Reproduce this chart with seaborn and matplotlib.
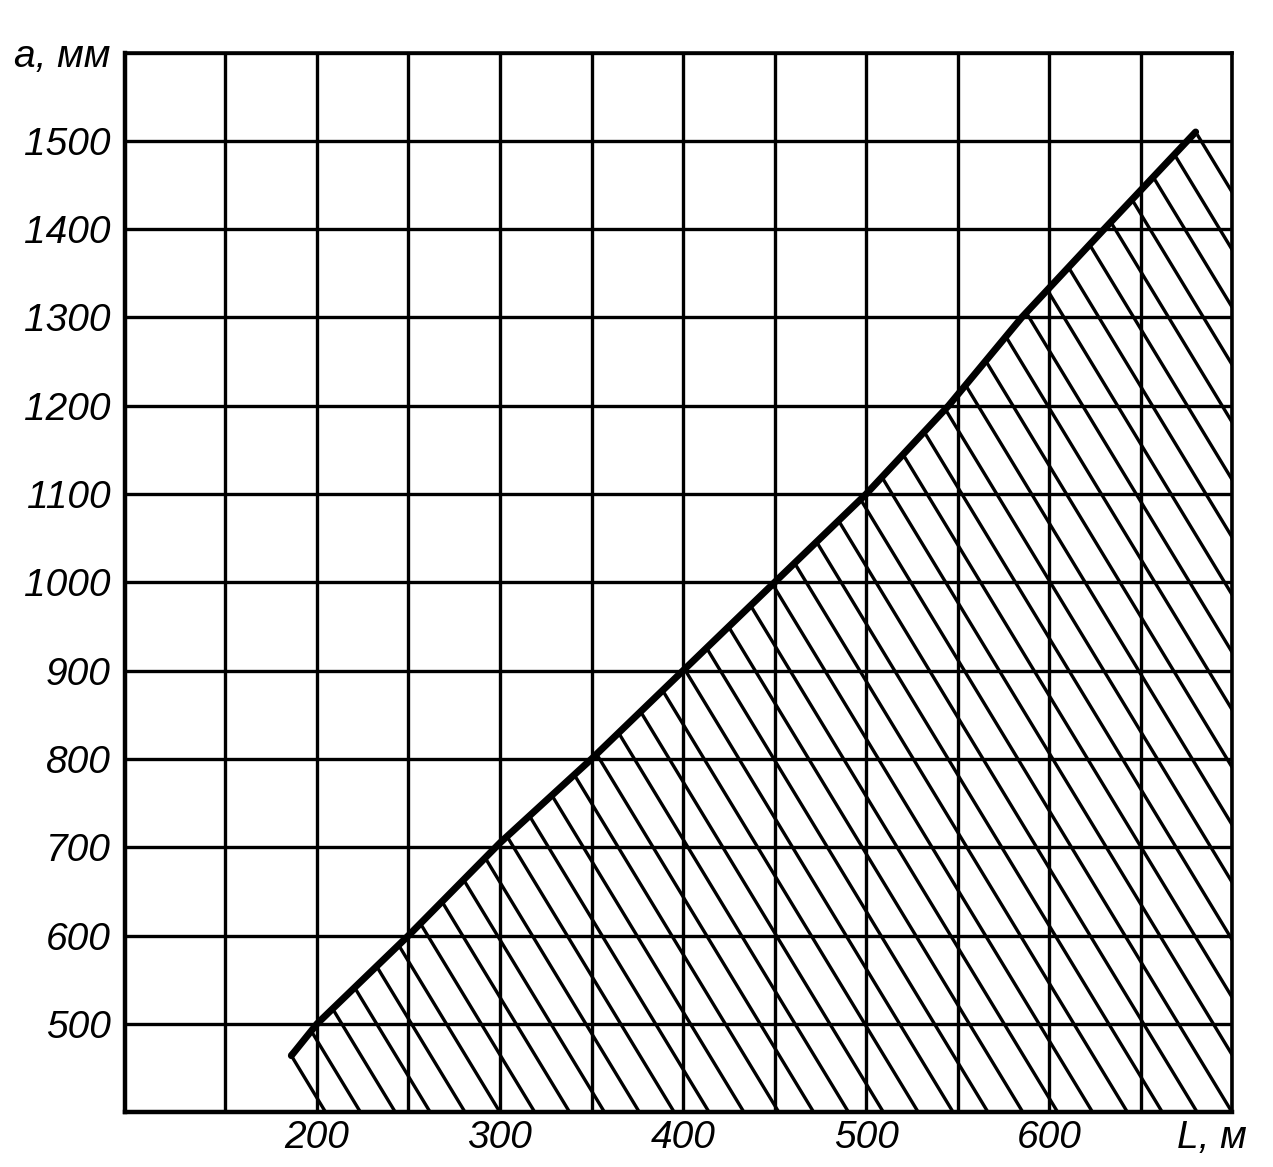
import numpy as np
import pandas as pd
import matplotlib
matplotlib.use("Agg")
import matplotlib.pyplot as plt
import matplotlib.transforms as mtransforms
import seaborn as sns
from matplotlib.patches import Polygon
from matplotlib.collections import LineCollection

# ---- data ----
L_m = [186, 200, 250, 300, 350, 400, 450, 500, 545, 585, 630, 680]
a_mm = [464, 500, 600, 705, 800, 900, 1000, 1100, 1200, 1300, 1400, 1510]

x_ticks = [200, 300, 400, 500, 600, 700]
x_tick_labels = ["200", "300", "400", "500", "600", "L, м"]
x_minor_grid = [150, 250, 350, 450, 550, 650]
y_ticks = [500, 600, 700, 800, 900, 1000, 1100, 1200, 1300, 1400, 1500, 1600]
y_tick_labels = ["500", "600", "700", "800", "900", "1000", "1100", "1200",
                 "1300", "1400", "1500", "a, мм"]

XMIN, XMAX, YMIN, YMAX = 95, 700, 400, 1600
HATCH_SLOPE = -3.42   # mm per m (direction of the hatch strokes)
N_HATCH = 42

sns.set_theme(style="white")
plt.rcParams['font.family'] = ['Liberation Sans Narrow', 'Liberation Sans', 'DejaVu Sans']
plt.rcParams['font.style'] = 'italic'
plt.rcParams['text.color'] = 'black'
plt.rcParams['xtick.color'] = 'black'
plt.rcParams['ytick.color'] = 'black'
plt.rcParams['xtick.labelcolor'] = 'black'
plt.rcParams['ytick.labelcolor'] = 'black'

df = pd.DataFrame({"L": L_m, "a": a_mm})

fig = plt.figure(figsize=(12.73, 11.67), dpi=100)
ax = fig.add_axes([0.098, 0.047, 0.870, 0.908])

# hatched region below the boundary line
L0, a0 = L_m[0], a_mm[0]
Le, ae = L_m[-1], a_mm[-1]
c0 = L0 + (a0 - YMIN) / (-HATCH_SLOPE)
ce = Le + (ae - YMIN) / (-HATCH_SLOPE)
cs = np.linspace(c0, ce, N_HATCH + 1)
dx_top = (YMAX - YMIN) / (-HATCH_SLOPE)
segs = [[(c - dx_top - 50, YMAX + 50 * (-HATCH_SLOPE)),
         (c + 10, YMIN + 10 * HATCH_SLOPE)] for c in cs]

d = 2.5
verts = [(L0 - d, a0)] + list(zip(L_m, a_mm))[1:-1] + [(Le + d, ae),
         (XMAX + 10, ae + HATCH_SLOPE * (XMAX + 10 - Le - d)),
         (XMAX + 10, YMIN - 20),
         (c0 - d + 20 / (-HATCH_SLOPE), YMIN - 20)]
clip_poly = Polygon(verts, closed=True, facecolor="none", edgecolor="none",
                    transform=ax.transData)
ax.add_patch(clip_poly)
lc = LineCollection(segs, colors="black", linewidths=2.4, zorder=2)
ax.add_collection(lc)
lc.set_clip_path(clip_poly)

# boundary line
sns.lineplot(data=df, x="L", y="a", ax=ax, color="black", linewidth=5.0,
             zorder=4, solid_capstyle="round")

ax.set_xlim(XMIN, XMAX)
ax.set_ylim(YMIN, YMAX)

ax.set_xticks(x_ticks)
ax.set_xticklabels(x_tick_labels)
ax.set_xticks(x_minor_grid, minor=True)
ax.set_yticks(y_ticks)
ax.set_yticklabels(y_tick_labels)

ax.grid(True, which="both", color="black", linewidth=2.4, zorder=1)
ax.set_axisbelow(True)
ax.tick_params(axis="both", which="both", length=0, labelcolor="black")
ax.tick_params(axis="y", pad=10, labelsize=28)
ax.tick_params(axis="x", pad=6, labelsize=28)
for lab in ax.get_xticklabels() + ax.get_yticklabels():
    lab.set_fontstyle("italic")
    lab.set_color("black")

# shift the axis-name label "L, м" slightly left, as in the reference
last = ax.get_xticklabels()[-1]
last.set_transform(last.get_transform() +
                   mtransforms.ScaledTranslation(-0.2, 0, fig.dpi_scale_trans))

for side in ["left", "bottom", "right", "top"]:
    ax.spines[side].set_visible(True)
    ax.spines[side].set_color("black")
ax.spines["left"].set_linewidth(3.2)
ax.spines["bottom"].set_linewidth(3.2)
ax.spines["right"].set_linewidth(2.6)
ax.spines["top"].set_linewidth(2.6)

ax.set_xlabel("")
ax.set_ylabel("")

fig.savefig("out.png", dpi=100, facecolor="white")
